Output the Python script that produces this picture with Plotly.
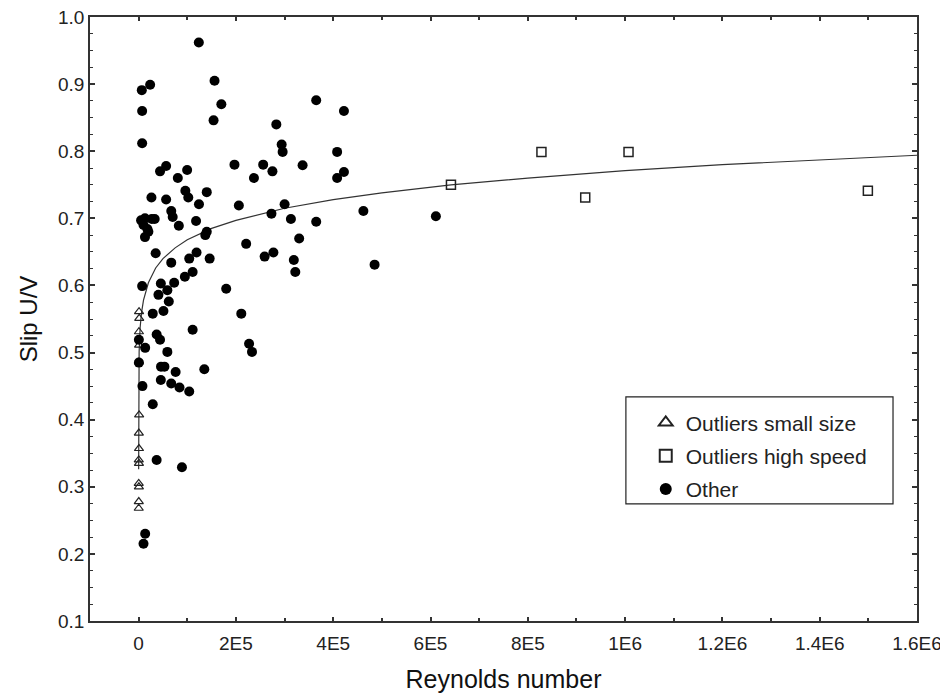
import plotly.graph_objects as go

# ---- data ----
other_x = [123700, 6500, 23600, 156000, 7200, 170000, 154000, 7200, 283000, 294000,
           296000, 197000, 256000, 275000, 237000, 56500, 44000, 99700, 80500, 26300,
           56500, 96000, 102000, 140000, 124000, 67000, 70000, 82600, 118000, 206000,
           300000, 273000, 313000, 137000, 140000, 221000, 35000, 67000, 104000, 119000,
           146000, 259000, 277000, 319000, 322000, 330000, 7200, 45600, 73000, 95000,
           111000, 40700, 59000, 62000, 180000, 29000, 51000, 211000, 111000, 37000,
           44000, 13400, 500, 227000, 233000, 59000, 500, 46000, 53000, 76000,
           135000, 45600, 67000, 84000, 104000, 7800, 29000, 37000, 89000, 13400,
           10000, 365000, 422000, 408000, 337000, 422000, 408000, 365000, 462000, 611000,
           485000, 5000, 13000, 27000, 33000, 10000, 18000, 13000, 20000]
other_y = [0.962, 0.891, 0.899, 0.905, 0.860, 0.870, 0.846, 0.812, 0.840, 0.810,
           0.799, 0.780, 0.780, 0.770, 0.760, 0.778, 0.770, 0.772, 0.760, 0.731,
           0.728, 0.741, 0.731, 0.739, 0.721, 0.711, 0.702, 0.689, 0.696, 0.719,
           0.721, 0.707, 0.699, 0.675, 0.680, 0.662, 0.648, 0.634, 0.640, 0.649,
           0.640, 0.643, 0.649, 0.638, 0.620, 0.670, 0.599, 0.603, 0.604, 0.613,
           0.620, 0.586, 0.593, 0.576, 0.595, 0.558, 0.562, 0.558, 0.534, 0.527,
           0.519, 0.507, 0.519, 0.513, 0.501, 0.501, 0.485, 0.479, 0.479, 0.471,
           0.475, 0.459, 0.454, 0.448, 0.442, 0.450, 0.423, 0.340, 0.329, 0.230,
           0.215, 0.876, 0.860, 0.799, 0.779, 0.769, 0.760, 0.695, 0.711, 0.703,
           0.631, 0.697, 0.700, 0.699, 0.699, 0.690, 0.684, 0.672, 0.680]

small_x = [800, 1200, 600, 900, 500, 1000, 400, 700, 300, 600, 200, 500, 300, 200]
small_y = [0.561, 0.551, 0.531, 0.511, 0.486, 0.407, 0.380, 0.357, 0.340, 0.335,
           0.305, 0.300, 0.278, 0.268]

speed_x = [642000, 828000, 1007000, 918000, 1499000]
speed_y = [0.750, 0.799, 0.799, 0.731, 0.741]

fit_x = [1, 5, 30, 300, 1000, 3000, 6000, 10000, 20000, 35000, 50000, 75000, 100000,
         150000, 200000, 300000, 400000, 500000, 642000, 800000, 1000000, 1200000,
         1400000, 1600000]
fit_y = [0.326, 0.360, 0.402, 0.465, 0.501, 0.537, 0.560, 0.578, 0.604, 0.626, 0.640,
         0.656, 0.668, 0.685, 0.697, 0.715, 0.728, 0.738, 0.750, 0.760, 0.771, 0.780,
         0.787, 0.794]

x_tickvals = [0, 200000, 400000, 600000, 800000, 1000000, 1200000, 1400000, 1600000]
x_ticktext = ["0", "2E5", "4E5", "6E5", "8E5", "1E6", "1.2E6", "1.4E6", "1.6E6"]
y_tickvals = [0.1, 0.2, 0.3, 0.4, 0.5, 0.6, 0.7, 0.8, 0.9, 1.0]

FONT = "Liberation Sans, Arial, sans-serif"

fig = go.Figure()
fig.add_trace(go.Scatter(x=fit_x, y=fit_y, mode="lines", showlegend=False,
                         line=dict(color="#333333", width=1.2)))
fig.add_trace(go.Scatter(x=small_x, y=small_y, mode="markers", name="Outliers small size",
                         legendgroup="a",
                         marker=dict(symbol="triangle-up-open", size=8, color="#222222",
                                     line=dict(width=1.2, color="#222222"))))
fig.add_trace(go.Scatter(x=speed_x, y=speed_y, mode="markers", name="Outliers high speed",
                         legendgroup="b",
                         marker=dict(symbol="square-open", size=9, color="#222222",
                                     line=dict(width=1.5, color="#222222"))))
fig.add_trace(go.Scatter(x=other_x, y=other_y, mode="markers", name="Other",
                         legendgroup="c",
                         marker=dict(symbol="circle", size=10, color="black")))

axis_common = dict(showline=True, linecolor="#333333", linewidth=1.5, mirror="allticks",
                   ticks="inside", tickcolor="#333333", showgrid=False, zeroline=False,
                   automargin=False, ticklabeloverflow="allow",
                   tickfont=dict(family=FONT, size=19, color="#222222"))

fig.update_xaxes(range=[-100000, 1600000], tickvals=x_tickvals, ticktext=x_ticktext,
                 ticklen=4, tickwidth=1.5, ticklabelstandoff=4,
                 minor=dict(ticks="inside", dtick=100000, tick0=0, ticklen=3,
                            tickcolor="#333333", tickwidth=1.5),
                 title=dict(text="Reynolds number", font=dict(family=FONT, size=25, color="#111111"),
                            standoff=18),
                 **axis_common)
fig.update_yaxes(range=[0.1, 1.0], tickvals=y_tickvals, tickformat=".1f",
                 ticklen=5, tickwidth=1.5,
                 minor=dict(ticks="inside", dtick=0.025, tick0=0.1, ticklen=3,
                            tickcolor="#333333", tickwidth=1.2),
                 title=dict(text="Slip U/V", font=dict(family=FONT, size=24, color="#111111"),
                            standoff=14),
                 **axis_common)

# legend frame (drawn as a shape to match the reference box size)
fig.add_shape(type="rect", xref="paper", yref="paper",
              x0=0.648, x1=0.971, y0=0.194, y1=0.371,
              line=dict(color="#222222", width=1.2), fillcolor="rgba(0,0,0,0)", layer="above")

# the page body adds an 8px offset, so the figure is 8px smaller than the window
fig.update_layout(
    width=940, height=689,
    margin=dict(l=82, r=31, t=9, b=76),
    plot_bgcolor="white", paper_bgcolor="white",
    font=dict(family=FONT, color="#222222"),
    legend=dict(x=0.672, y=0.362, xanchor="left", yanchor="top",
                borderwidth=0, bgcolor="rgba(0,0,0,0)",
                font=dict(family=FONT, size=21, color="#222222"),
                itemsizing="constant", tracegroupgap=3),
)

fig.write_html("out.html")
